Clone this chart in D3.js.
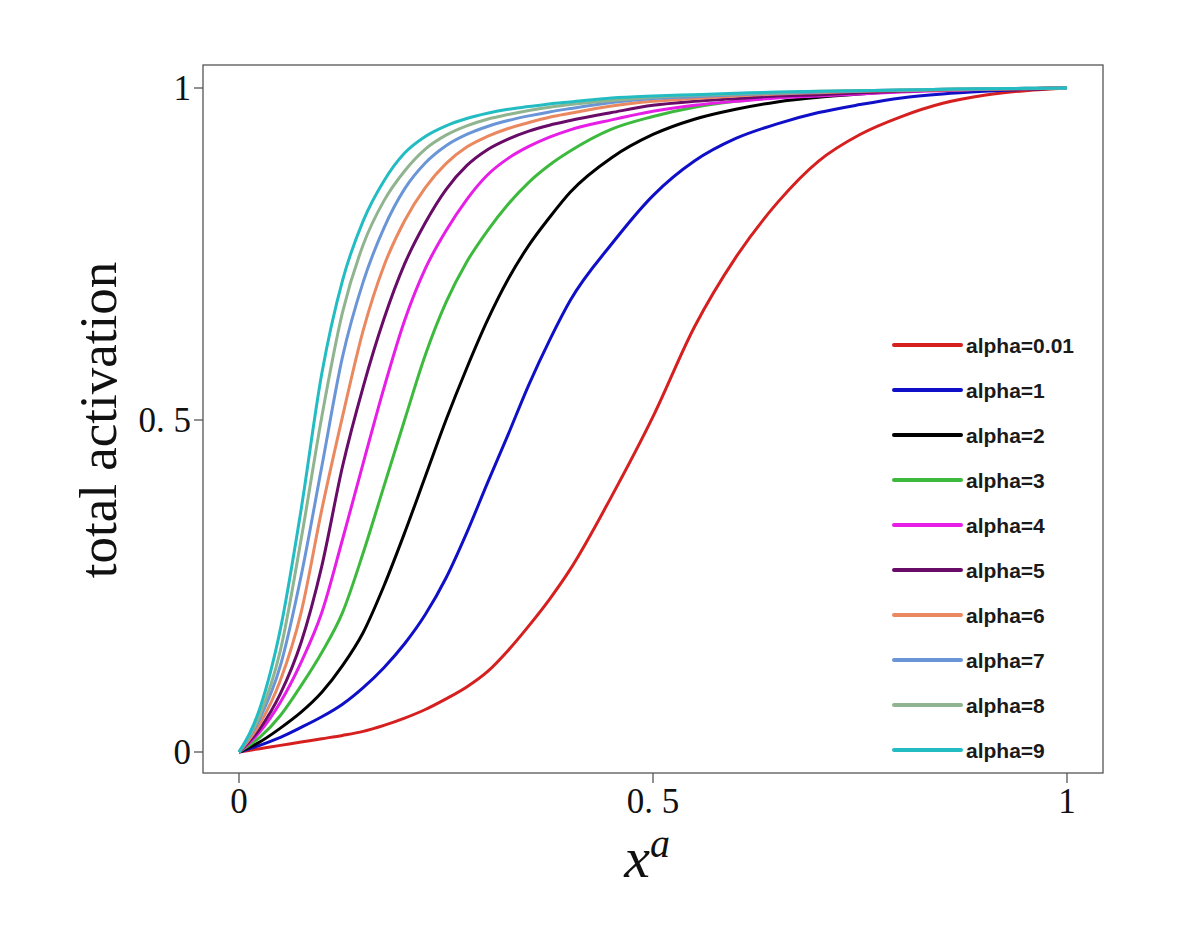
<!DOCTYPE html>
<html>
<head>
  <meta charset="utf-8">
  <style>
    body {
      margin: 0;
      background: #fff;
    }
    .frame {
      fill: none;
      stroke: #555;
      stroke-width: 1.3px;
    }
    .tick-line {
      stroke: #555;
      stroke-width: 1.3px;
    }
    .tick-label {
      font-family: "Liberation Serif", "Times New Roman", serif;
      font-size: 35px;
      fill: #111;
    }
    .curve {
      fill: none;
      stroke-width: 3px;
      stroke-linejoin: round;
    }
    .legend text {
      font-family: "Liberation Sans", Arial, sans-serif;
      font-weight: bold;
      font-size: 21px;
      fill: #1a1a1a;
    }
  </style>
  <script src="https://d3js.org/d3.v7.min.js"></script>
</head>
<body>
  <script>
    // sample positions along x^a (shared by all series)
    var xs = [0, 0.025, 0.05, 0.075, 0.1, 0.125, 0.15, 0.175, 0.2, 0.225, 0.25, 0.275, 0.3, 0.325,
              0.35, 0.375, 0.4, 0.45, 0.5, 0.55, 0.6, 0.65, 0.7, 0.75, 0.8, 0.85, 0.9, 0.95, 1];

    // total activation
    var alpha001 = [0, 0.005, 0.010, 0.015, 0.020, 0.025, 0.031, 0.040, 0.051, 0.064, 0.080, 0.098, 0.121, 0.153,
                    0.190, 0.230, 0.275, 0.385, 0.505, 0.640, 0.745, 0.827, 0.890, 0.930, 0.957, 0.977, 0.989, 0.996, 1];
    var alpha1 = [0, 0.010, 0.022, 0.037, 0.053, 0.072, 0.097, 0.127, 0.163, 0.207, 0.262, 0.330, 0.405, 0.478,
                  0.553, 0.620, 0.680, 0.765, 0.838, 0.890, 0.924, 0.946, 0.963, 0.975, 0.985, 0.991, 0.995, 0.998, 1];
    var alpha2 = [0, 0.015, 0.036, 0.060, 0.090, 0.130, 0.180, 0.250, 0.330, 0.415, 0.500, 0.578, 0.650, 0.712,
                  0.763, 0.805, 0.843, 0.895, 0.930, 0.953, 0.968, 0.979, 0.986, 0.991, 0.995, 0.997, 0.998, 0.999, 1];
    var alpha3 = [0, 0.022, 0.055, 0.100, 0.150, 0.210, 0.300, 0.400, 0.500, 0.598, 0.677, 0.738, 0.785, 0.825,
                  0.858, 0.884, 0.905, 0.938, 0.957, 0.971, 0.980, 0.986, 0.990, 0.993, 0.995, 0.997, 0.998, 0.999, 1];
    var alpha4 = [0, 0.030, 0.075, 0.135, 0.210, 0.320, 0.435, 0.548, 0.650, 0.728, 0.785, 0.832, 0.869, 0.894,
                  0.912, 0.926, 0.937, 0.952, 0.965, 0.974, 0.980, 0.985, 0.988, 0.991, 0.994, 0.996, 0.998, 0.999, 1];
    var alpha5 = [0, 0.035, 0.088, 0.165, 0.280, 0.430, 0.550, 0.652, 0.735, 0.797, 0.847, 0.883, 0.907, 0.923,
                  0.935, 0.944, 0.951, 0.963, 0.974, 0.980, 0.984, 0.988, 0.990, 0.993, 0.995, 0.997, 0.998, 0.999, 1];
    var alpha6 = [0, 0.042, 0.108, 0.210, 0.365, 0.505, 0.635, 0.732, 0.800, 0.850, 0.886, 0.911, 0.927, 0.939,
                  0.948, 0.956, 0.962, 0.973, 0.980, 0.984, 0.988, 0.991, 0.993, 0.995, 0.996, 0.997, 0.998, 0.999, 1];
    var alpha7 = [0, 0.050, 0.130, 0.265, 0.430, 0.595, 0.708, 0.789, 0.848, 0.887, 0.913, 0.930, 0.942, 0.951,
                  0.958, 0.964, 0.969, 0.978, 0.984, 0.987, 0.990, 0.992, 0.994, 0.996, 0.997, 0.998, 0.999, 0.9995, 1];
    var alpha8 = [0, 0.055, 0.153, 0.320, 0.505, 0.662, 0.764, 0.830, 0.875, 0.908, 0.929, 0.943, 0.953, 0.960,
                  0.966, 0.971, 0.975, 0.981, 0.986, 0.989, 0.991, 0.993, 0.995, 0.996, 0.997, 0.998, 0.999, 0.9995, 1];
    var alpha9 = [0, 0.065, 0.185, 0.365, 0.570, 0.710, 0.800, 0.860, 0.902, 0.927, 0.943, 0.954, 0.962, 0.968,
                  0.972, 0.976, 0.979, 0.985, 0.988, 0.990, 0.992, 0.994, 0.995, 0.996, 0.997, 0.998, 0.999, 0.9995, 1];

    var seriesNames = ["alpha=0.01", "alpha=1", "alpha=2", "alpha=3", "alpha=4",
                       "alpha=5", "alpha=6", "alpha=7", "alpha=8", "alpha=9"];
    var seriesValues = [alpha001, alpha1, alpha2, alpha3, alpha4, alpha5, alpha6, alpha7, alpha8, alpha9];
    var seriesColors = ["#d61f1f", "#0f0fc8", "#000000", "#3dba3d", "#e61ee6",
                        "#680c68", "#ea8860", "#6a95d6", "#8fb48f", "#22bcc2"];

    var xTicks = [0, 0.5, 1];
    var xTickLabels = ["0", "0. 5", "1"];
    var yTicks = [0, 0.5, 1];
    var yTickLabels = ["0", "0. 5", "1"];

    var W = 1200, H = 933;
    var frame = {left: 203, top: 65, right: 1103, bottom: 773};

    var x = d3.scaleLinear().domain([0, 1]).range([239, 1067]);
    var y = d3.scaleLinear().domain([0, 1]).range([752, 88]);

    var svg = d3.select("body").append("svg")
      .attr("width", W)
      .attr("height", H);

    svg.append("rect")
      .attr("width", W)
      .attr("height", H)
      .attr("fill", "#fff");

    // curves (red first, cyan on top)
    var line = d3.line()
      .x(function(d) { return x(d[0]); })
      .y(function(d) { return y(d[1]); })
      .curve(d3.curveMonotoneX);

    svg.selectAll(".curve")
      .data(seriesValues)
      .enter().append("path")
      .attr("class", "curve")
      .attr("stroke", function(d, i) { return seriesColors[i]; })
      .attr("d", function(d) {
        return line(d.map(function(v, j) { return [xs[j], v]; }));
      });

    // plot frame
    svg.append("rect")
      .attr("class", "frame")
      .attr("x", frame.left)
      .attr("y", frame.top)
      .attr("width", frame.right - frame.left)
      .attr("height", frame.bottom - frame.top);

    // y ticks
    svg.selectAll(".ytick")
      .data(yTicks)
      .enter().append("line")
      .attr("class", "tick-line")
      .attr("x1", frame.left - 9)
      .attr("x2", frame.left)
      .attr("y1", function(d) { return y(d); })
      .attr("y2", function(d) { return y(d); });

    svg.selectAll(".ylab")
      .data(yTicks)
      .enter().append("text")
      .attr("class", "tick-label")
      .attr("x", frame.left - 12)
      .attr("y", function(d) { return y(d); })
      .attr("dy", "0.34em")
      .attr("text-anchor", "end")
      .text(function(d, i) { return yTickLabels[i]; });

    // x ticks
    svg.selectAll(".xtick")
      .data(xTicks)
      .enter().append("line")
      .attr("class", "tick-line")
      .attr("x1", function(d) { return x(d); })
      .attr("x2", function(d) { return x(d); })
      .attr("y1", frame.bottom)
      .attr("y2", frame.bottom + 10);

    svg.selectAll(".xlab")
      .data(xTicks)
      .enter().append("text")
      .attr("class", "tick-label")
      .attr("x", function(d) { return x(d); })
      .attr("y", frame.bottom + 40)
      .attr("text-anchor", "middle")
      .text(function(d, i) { return xTickLabels[i]; });

    // axis titles
    svg.append("text")
      .attr("transform", "translate(116," + y(0.5) + ") rotate(-90)")
      .attr("text-anchor", "middle")
      .style("font-family", "'Liberation Serif', 'Times New Roman', serif")
      .style("font-size", "53px")
      .attr("fill", "#111")
      .text("total activation");

    var xt = svg.append("text")
      .attr("x", x(0.5) - 6)
      .attr("y", 877)
      .attr("text-anchor", "middle")
      .style("font-family", "'Liberation Serif', 'Times New Roman', serif")
      .style("font-style", "italic")
      .style("font-size", "58px")
      .attr("fill", "#111");
    xt.append("tspan").text("x");
    xt.append("tspan")
      .attr("dy", -20)
      .style("font-size", "40px")
      .text("a");

    // legend
    var legend = svg.append("g").attr("class", "legend");
    var rowY = d3.scalePoint().domain(d3.range(seriesNames.length)).range([345, 750]);

    var rows = legend.selectAll("g")
      .data(seriesNames)
      .enter().append("g")
      .attr("transform", function(d, i) { return "translate(0," + rowY(i) + ")"; });

    rows.append("line")
      .attr("x1", 894)
      .attr("x2", 961)
      .attr("stroke-width", 4)
      .attr("stroke-linecap", "round")
      .attr("stroke", function(d, i) { return seriesColors[i]; });

    rows.append("text")
      .attr("x", 966)
      .attr("dy", "0.36em")
      .text(function(d) { return d; });
  </script>
</body>
</html>
